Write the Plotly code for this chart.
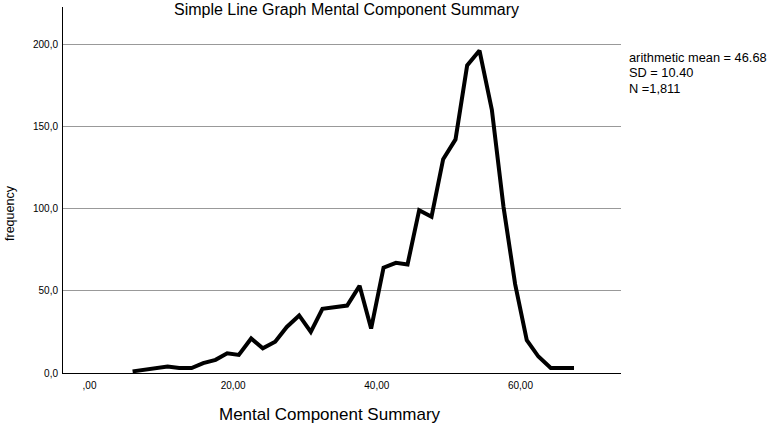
import plotly.graph_objects as go

mcs_bins = [6.00, 7.63, 9.25, 10.87, 12.49, 14.21, 15.83, 17.55, 19.17, 20.79, 22.51, 24.13,
            25.85, 27.47, 29.19, 30.81, 32.43, 34.15, 35.87, 37.60, 39.21, 40.94, 42.66,
            44.28, 45.90, 47.62, 49.24, 50.96, 52.58, 54.30, 56.02, 57.64, 59.26, 60.88,
            62.50, 64.22, 65.84, 67.46]
frequency = [1, 2, 3, 4, 3, 3, 6, 8, 12, 11, 21, 15, 19,
             28, 35, 25, 39, 40, 41, 53, 27, 64, 67, 66, 99,
             95, 130, 142, 187, 196, 160, 101, 54, 20, 10, 3, 3, 3]

x_tickvals = [0, 20, 40, 60]
x_ticktext = [",00", "20,00", "40,00", "60,00"]
y_tickvals = [0, 50, 100, 150, 200]
y_ticktext = ["0,0", "50,0", "100,0", "150,0", "200,0"]
stats_text = ["arithmetic mean = 46.68", "SD = 10.40", "N =1,811"]

FONT = "Liberation Sans, Arial, sans-serif"

fig = go.Figure()
fig.add_trace(go.Scatter(x=mcs_bins, y=frequency, mode="lines",
                         line=dict(color="black", width=4), hoverinfo="x+y"))

W, H = 777, 427
L, R, T, B = 63, 156, 7, 54

fig.update_layout(
    width=W, height=H,
    margin=dict(l=L, r=R, t=T, b=B),
    paper_bgcolor="white", plot_bgcolor="white",
    showlegend=False,
    font=dict(family=FONT, color="black"),
    xaxis=dict(range=[-3.69, 74.0], tickvals=x_tickvals, ticktext=x_ticktext,
               showgrid=False, zeroline=False, showline=True, linecolor="black",
               linewidth=1, ticks="", tickfont=dict(size=10, family=FONT),
               ticklabelstandoff=3),
    yaxis=dict(range=[0, 222.5], tickvals=y_tickvals, ticktext=y_ticktext,
               showgrid=True, gridcolor="#999999", gridwidth=1, zeroline=False,
               showline=True, linecolor="black", linewidth=1, ticks="",
               tickfont=dict(size=10, family=FONT), ticklabelstandoff=2),
)

def px_x(p):
    return (p - L) / (W - L - R)

def px_y(p):
    return 1 - (p - T) / (H - T - B)

anns = [
    dict(text="Simple Line Graph Mental Component Summary", x=346, y=9, size=16),
    dict(text="Mental Component Summary", x=330, y=414, size=17),
]
for a in anns:
    fig.add_annotation(text=a["text"], xref="paper", yref="paper",
                       x=px_x(a["x"]), y=px_y(a["y"]), xanchor="center", yanchor="middle",
                       showarrow=False, font=dict(size=a["size"], family=FONT))
fig.add_annotation(text="frequency", xref="paper", yref="paper",
                   x=px_x(10), y=px_y(213), xanchor="center", yanchor="middle",
                   textangle=-90, showarrow=False, font=dict(size=12.5, family=FONT))
for i, t in enumerate(stats_text):
    fig.add_annotation(text=t, xref="paper", yref="paper",
                       x=px_x(627), y=px_y(57 + 15.5 * i), xanchor="left", yanchor="middle",
                       showarrow=False, font=dict(size=12.8, family=FONT))

fig.write_html("out.html", config={"displayModeBar": False},
               post_script="document.body.style.margin='0';document.body.style.overflow='hidden';")
